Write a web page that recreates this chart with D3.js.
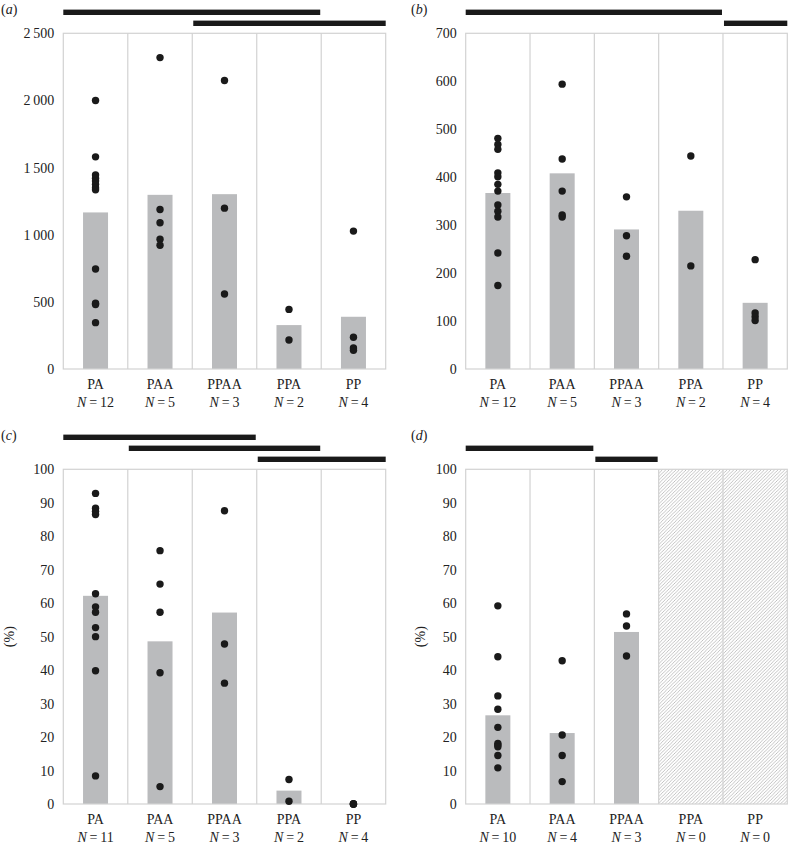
<!DOCTYPE html>
<html><head><meta charset="utf-8">
<script src="https://cdn.jsdelivr.net/npm/d3@7/dist/d3.min.js"></script>
<style>
html,body{margin:0;padding:0;background:#fff;}
</style></head>
<body>
<svg id="chart" width="790" height="846"></svg>
<script>
// ---------- data ----------
const categories = ["PA", "PAA", "PPAA", "PPA", "PP"];

const nA = [12, 5, 3, 2, 4];
const meansA = [1166, 1297, 1302, 327, 389];
const pointsA = [
  [2000, 1580, 1445, 1420, 1400, 1375, 1350, 1335, 745, 490, 480, 345],
  [2319, 1188, 1089, 967, 922],
  [2148, 1198, 558],
  [444, 216],
  [1027, 236, 156, 140]
];
const ticksA = [0, 500, 1000, 1500, 2000, 2500];
const tickLabelsA = ["0", "500", "1\u2009000", "1\u2009500", "2\u2009000", "2\u2009500"];
const sigA = [[0, 3, 1], [2, 4, 0]];

const nB = [12, 5, 3, 2, 4];
const meansB = [367, 408, 291, 330, 138];
const pointsB = [
  [481, 468, 458, 409, 401, 385, 371, 342, 329, 317, 242, 174],
  [594, 438, 371, 321, 317],
  [359, 278, 235],
  [444, 215],
  [228, 117, 109, 101]
];
const ticksB = [0, 100, 200, 300, 400, 500, 600, 700];
const tickLabelsB = ["0", "100", "200", "300", "400", "500", "600", "700"];
const sigB = [[0, 3, 1], [4, 4, 0]];

const nC = [11, 5, 3, 2, 4];
const meansC = [62.2, 48.6, 57.2, 4.0, 0];
const pointsC = [
  [92.8, 88.4, 87.5, 86.5, 62.8, 58.9, 57.3, 52.7, 50.0, 39.8, 8.4],
  [75.7, 65.7, 57.3, 39.2, 5.2],
  [87.6, 47.8, 36.1],
  [7.3, 0.8],
  [0, 0, 0, 0]
];
const ticksPct = [0, 10, 20, 30, 40, 50, 60, 70, 80, 90, 100];
const tickLabelsPct = ["0", "10", "20", "30", "40", "50", "60", "70", "80", "90", "100"];
const sigC = [[0, 2, 2], [1, 3, 1], [3, 4, 0]];

const nD = [10, 4, 3, 0, 0];
const meansD = [26.5, 21.2, 51.4, null, null];
const pointsD = [
  [59.2, 44.0, 32.3, 28.3, 22.9, 18.1, 17.6, 17.1, 14.5, 10.8],
  [42.8, 20.6, 14.5, 6.7],
  [56.8, 53.2, 44.2],
  [],
  []
];
const sigD = [[0, 1, 1], [2, 2, 0]];
const hatchedD = [3, 4];

// ---------- drawing ----------
const FONT = "'Liberation Serif', 'DejaVu Serif', 'Times New Roman', Times, serif";
const svg = d3.select("#chart");
const defs = svg.append("defs");
const pat = defs.append("pattern").attr("id", "hatch")
  .attr("patternUnits", "userSpaceOnUse").attr("width", 3.4).attr("height", 3.4);
pat.append("path").attr("d", "M-0.85,0.85 l1.7,-1.7 M0,3.4 l3.4,-3.4 M2.55,4.25 l1.7,-1.7")
  .attr("stroke", "#b4b4b4").attr("stroke-width", 0.8);

const frameColor = "#d2d2d2";
const barColor = "#babbbd";
const dotColor = "#1a1a1a";
const textColor = "#222";

function txt(sel) {
  return sel.attr("font-family", FONT).attr("font-size", 14).attr("fill", textColor);
}

function drawPanel(cfg) {
  const g = svg.append("g");
  const x = d3.scaleBand().domain(categories).range([cfg.x0, cfg.x1]).padding(0);
  const y = d3.scaleLinear().domain([cfg.ticks[0], cfg.ticks[cfg.ticks.length - 1]]).range([cfg.y1, cfg.y0]);
  const bw = 25;

  (cfg.hatched || []).forEach(i => {
    g.append("rect").attr("x", x(categories[i])).attr("y", cfg.y0)
      .attr("width", x.bandwidth()).attr("height", cfg.y1 - cfg.y0)
      .attr("fill", "url(#hatch)");
  });

  g.selectAll(".bar").data(categories.map((c, i) => ({c, v: cfg.means[i]})).filter(d => d.v != null && d.v > 0))
    .join("rect")
    .attr("x", d => x(d.c) + x.bandwidth() / 2 - bw / 2)
    .attr("width", bw)
    .attr("y", d => y(d.v))
    .attr("height", d => y(0) - y(d.v))
    .attr("fill", barColor);

  g.append("rect").attr("x", cfg.x0).attr("y", cfg.y0)
    .attr("width", cfg.x1 - cfg.x0).attr("height", cfg.y1 - cfg.y0)
    .attr("fill", "none").attr("stroke", frameColor).attr("stroke-width", 1.2);
  categories.slice(1).forEach(c => {
    g.append("line").attr("x1", x(c)).attr("x2", x(c))
      .attr("y1", cfg.y0).attr("y2", cfg.y1)
      .attr("stroke", frameColor).attr("stroke-width", 1.2);
  });

  const pts = [];
  cfg.points.forEach((arr, i) => arr.forEach(v => pts.push({c: categories[i], v})));
  g.selectAll(".dot").data(pts).join("circle")
    .attr("cx", d => x(d.c) + x.bandwidth() / 2)
    .attr("cy", d => y(d.v))
    .attr("r", 3.7)
    .attr("fill", dotColor);

  const ax = d3.axisLeft(y).tickValues(cfg.ticks)
    .tickFormat((d, i) => cfg.tickLabels[i]).tickSize(0).tickPadding(9);
  const axg = g.append("g").attr("transform", `translate(${cfg.x0},0)`).call(ax)
    .attr("font-family", FONT).attr("font-size", 14);
  axg.select(".domain").remove();
  txt(axg.selectAll("text"));

  categories.forEach((c, i) => {
    const cx = x(c) + x.bandwidth() / 2;
    txt(g.append("text")).attr("x", cx).attr("y", cfg.y1 + 20)
      .attr("text-anchor", "middle").text(c);
    const t = txt(g.append("text")).attr("x", cx).attr("y", cfg.y1 + 37.5)
      .attr("text-anchor", "middle");
    t.append("tspan").attr("font-style", "italic").text("N");
    t.append("tspan").text("\u2009=\u2009" + cfg.n[i]);
  });

  cfg.sig.forEach(([a, b, level]) => {
    const xa = x(categories[a]) + (a === 0 ? 0 : 1);
    const xb = x(categories[b]) + x.bandwidth() - (b === 4 ? 0 : 1);
    const yc = cfg.y0 - 10 - level * 11;
    g.append("rect").attr("x", xa).attr("y", yc - 2.7)
      .attr("width", xb - xa).attr("height", 5.4).attr("fill", dotColor);
  });

  const pl = txt(g.append("text")).attr("x", cfg.lx).attr("y", cfg.ly);
  pl.append("tspan").text("(");
  pl.append("tspan").attr("font-style", "italic").text(cfg.letter);
  pl.append("tspan").text(")");

  if (cfg.ylabel) {
    txt(g.append("text")).attr("transform", `translate(${cfg.ylx},${(cfg.y0 + cfg.y1) / 2}) rotate(-90)`)
      .attr("text-anchor", "middle").attr("dy", "0.35em").text(cfg.ylabel);
  }
}

drawPanel({x0: 63.3, x1: 385.7, y0: 33.3, y1: 369, means: meansA, points: pointsA, n: nA,
  ticks: ticksA, tickLabels: tickLabelsA, sig: sigA, letter: "a", lx: 1, ly: 14});
drawPanel({x0: 465.7, x1: 787.3, y0: 33.3, y1: 369, means: meansB, points: pointsB, n: nB,
  ticks: ticksB, tickLabels: tickLabelsB, sig: sigB, letter: "b", lx: 411, ly: 14});
drawPanel({x0: 63.3, x1: 385.7, y0: 469.3, y1: 804, means: meansC, points: pointsC, n: nC,
  ticks: ticksPct, tickLabels: tickLabelsPct, sig: sigC, letter: "c", lx: 1, ly: 440,
  ylabel: "(%)", ylx: 9});
drawPanel({x0: 465.7, x1: 787.3, y0: 469.3, y1: 804, means: meansD, points: pointsD, n: nD,
  ticks: ticksPct, tickLabels: tickLabelsPct, sig: sigD, letter: "d", lx: 411, ly: 440,
  ylabel: "(%)", ylx: 420, hatched: hatchedD});
</script>
</body></html>
